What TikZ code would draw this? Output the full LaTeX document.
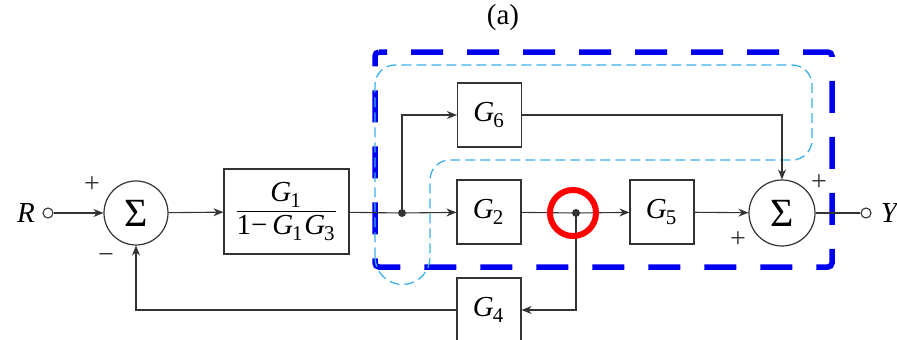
\documentclass[tikz,border=0pt]{standalone}
\usepackage{fontspec}
\setmainfont{Liberation Serif}
\usetikzlibrary{arrows.meta}
\definecolor{ln}{HTML}{333333}
\definecolor{bl}{HTML}{0000F0}
\definecolor{lb}{HTML}{3AB0EA}
\newcommand\Gsub[1]{{\itshape G}\kern-0.04em\raisebox{-0.45ex}{\fontsize{21}{21}\selectfont #1}\kern0.06em}
\begin{document}
\begin{tikzpicture}[x=1pt,y=-1pt,
  font=\fontsize{29}{34}\selectfont,
  blk/.style={draw=ln, line width=1.2pt, minimum width=64pt, minimum height=64pt, inner sep=0pt},
  sumn/.style={circle, draw=ln, line width=1.2pt, minimum size=64pt, inner sep=0pt, font=\fontsize{40}{40}\selectfont},
  conn/.style={draw=ln, line width=1.1pt},
  arr/.style={conn, -{Stealth[length=10pt,width=8pt]}},
  dotn/.style={circle, fill=ln, minimum size=8pt, inner sep=0pt},
  port/.style={circle, draw=ln, line width=1.1pt, minimum size=10pt, inner sep=0pt},
  sgn/.style={font=\fontsize{28}{28}\selectfont, text=ln}]
\useasboundingbox (0,0) rectangle (897,340);
% dashed regions
\draw[bl, line width=5.5pt, dash pattern=on 32pt off 24pt, dash phase=24pt, rounded corners=4pt]
  (375,52) -- (832,52) -- (832,267) -- (375,267) -- cycle;
\draw[lb, line width=1.3pt, dash pattern=on 10pt off 5pt]
  (375,257) arc[start angle=180, end angle=0, radius=27.5]
  [rounded corners=20pt] -- (430,160) -- (812,160) -- (812,65) -- (375,65) -- (375,257);
% nodes
\node (title) at (503,18) {(a)};
\node (R) at (26,213) {\itshape R};
\node[port] (Rin) at (48,213) {};
\node[sumn] (S1) at (136,213) {Σ};
\node[draw=ln, line width=1.2pt, minimum width=125pt, minimum height=85pt, inner sep=0pt] (G1) at (286.5,211.5)
  {$\displaystyle\frac{\hbox{\Gsub1}}{\hbox{1−\,\Gsub1\Gsub3}}$};
\node[dotn] (b1) at (402,213) {};
\node[blk] (G6) at (489.5,115) {\Gsub6};
\node[blk] (G2) at (489,212) {\Gsub2};
\node[dotn] (b2) at (576,213) {};
\node[blk] (G5) at (662,212) {\Gsub5};
\node[sumn, minimum size=66pt] (S2) at (782,213) {Σ};
\node[port] (Yout) at (866,213) {};
\node (Y) at (889,213) {\itshape Y};
\node[blk] (G4) at (489,310) {\Gsub4};
% signs
\node[sgn] (p1) at (92,185) {+};
\node[sgn] (m1) at (106,258) {−};
\node[sgn] (p2) at (819,183) {+};
\node[sgn] (p3) at (738,240) {+};
% connectors
\draw[arr] (Rin) -- (S1);
\draw[arr] (S1) -- (G1);
\draw[conn] (G1) -- (b1);
\draw[arr] (b1) -- (G2);
\draw[arr] (b1) |- (G6);
\draw[arr] (G6) -| (S2);
\draw[conn] (G2) -- (b2);
\draw[arr] (b2) -- (G5);
\draw[arr] (G5) -- (S2);
\draw[conn] (S2) -- (Yout);
\draw[arr] (b2) |- (G4);
\draw[arr] (G4) -| (S1);
% highlight
\node[circle, draw=red, line width=6pt, minimum size=46pt, inner sep=0pt] (mark) at (573,213) {};
\end{tikzpicture}
\end{document}
